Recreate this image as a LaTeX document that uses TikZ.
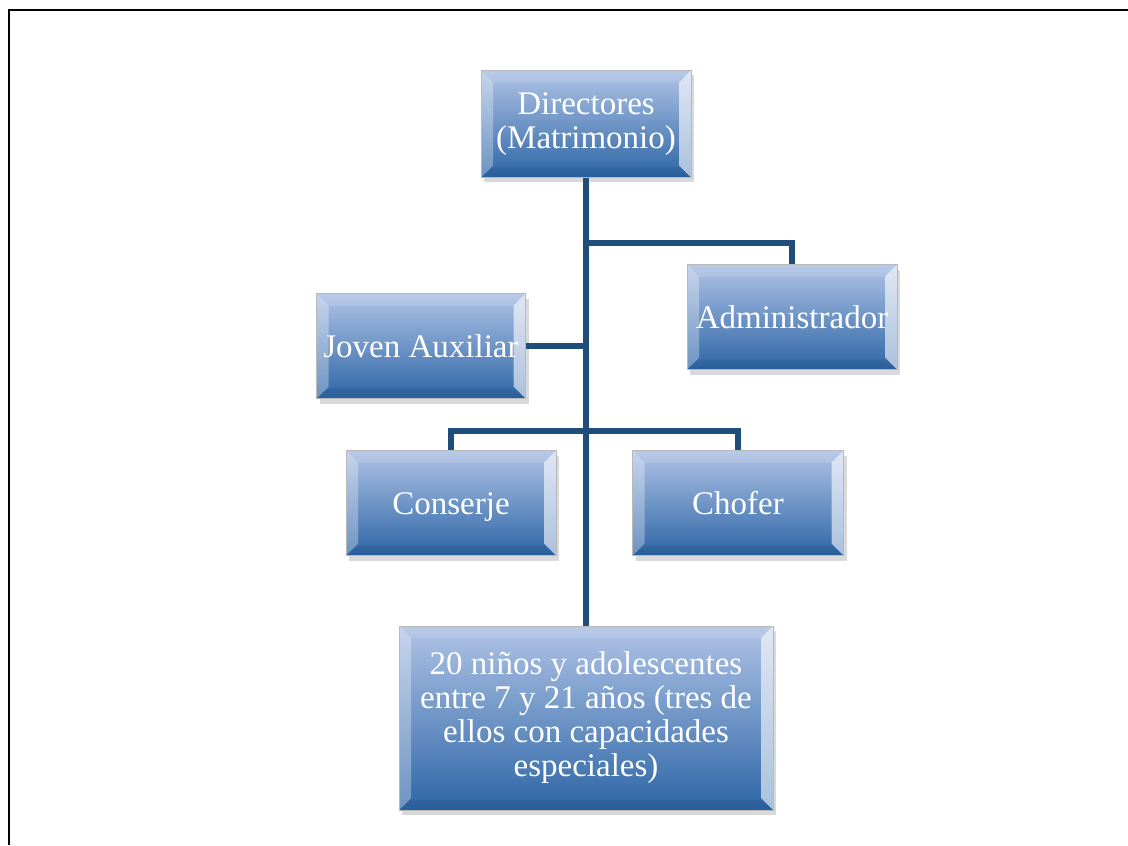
\documentclass[tikz,border=0pt]{standalone}
\usepackage{fontspec}
\setmainfont{Liberation Serif}
\usetikzlibrary{shadows}
\definecolor{cajaArriba}{HTML}{B0C3E6}
\definecolor{cajaAbajo}{HTML}{2D66A6}
\definecolor{linea}{HTML}{1F4E7B}
\begin{document}
\begin{tikzpicture}[x=0.5pt,y=-0.5pt,
	caja/.style={rectangle,draw=gray!55,line width=0.3pt,
		top color=cajaArriba,bottom color=cajaAbajo,
		text=white,align=center,inner sep=0pt,
		font=\fontsize{16.5}{17}\selectfont,
		drop shadow={opacity=0.3,shadow xshift=1.5pt,shadow yshift=-2.5pt},
		path picture={
			\fill[white,opacity=0.3] (path picture bounding box.north west) -- ++(6pt,-6pt)
				-- ([xshift=6pt,yshift=6pt]path picture bounding box.south west)
				-- (path picture bounding box.south west) -- cycle;
			\fill[white,opacity=0.6] (path picture bounding box.north east) -- ++(-6pt,-6pt)
				-- ([xshift=-6pt,yshift=6pt]path picture bounding box.south east)
				-- (path picture bounding box.south east) -- cycle;
			\fill[white,opacity=0.12] (path picture bounding box.north west) -- ++(6pt,-6pt)
				-- ([xshift=-6pt,yshift=-6pt]path picture bounding box.north east)
				-- (path picture bounding box.north east) -- cycle;
			\fill[black,opacity=0.07] (path picture bounding box.south west) -- ++(6pt,5pt)
				-- ([xshift=-6pt,yshift=5pt]path picture bounding box.south east)
				-- (path picture bounding box.south east) -- cycle;
		}},
	unalinea/.style={text height=14pt,text depth=3pt},
	conector/.style={draw=linea,line width=3pt}]
	\useasboundingbox (0,0) rectangle (1128,845);

	% Marco de la hoja
	\draw[line width=1.4pt] (9,845) -- (9,10) -- (1128,10);

	% Cajas
	\node[caja,minimum width=105pt,minimum height=53.5pt] (dir) at (586,124) {Directores\\(Matrimonio)};
	\node[caja,unalinea,minimum width=105pt,minimum height=52.5pt] (admin) at (792,317) {Administrador};
	\node[caja,unalinea,minimum width=104.5pt,minimum height=52.5pt] (joven) at (421,346) {Joven Auxiliar};
	\node[caja,unalinea,minimum width=105pt,minimum height=52.5pt] (conserje) at (451,503) {Conserje};
	\node[caja,unalinea,minimum width=105.5pt,minimum height=52.5pt] (chofer) at (738,503) {Chofer};
	\node[caja,minimum width=187pt,minimum height=92pt] (ninos) at (586,718) {20 niños y adolescentes\\entre 7 y 21 años (tres de\\ellos con capacidades\\especiales)};

	% Conectores
	\draw[conector] (dir.south) -- (ninos.north);
	\coordinate (rama) at (586,243);
	\draw[conector] (rama) -| (admin.north);
	\draw[conector] (joven.east) -- (joven.east -| dir.south);
	\draw[conector] (conserje.north) -- ++(0,-19) -| (chofer.north);
\end{tikzpicture}
\end{document}
